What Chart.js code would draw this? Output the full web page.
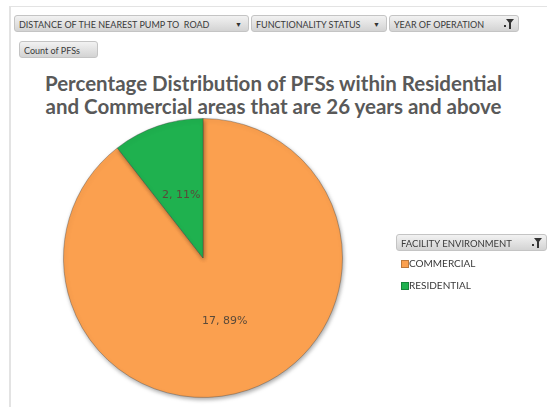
<!DOCTYPE html>
<html>
<head>
<meta charset="utf-8">
<script src="https://cdn.jsdelivr.net/npm/chart.js@4/dist/chart.umd.min.js"></script>
<style>
  body { margin: 0; width: 547px; height: 407px; background: #fff; overflow: hidden; font-family: Lato, "Open Sans", sans-serif; }
  #frame { position: absolute; left: 9px; top: 6px; right: 0; bottom: 0; border-top: 1px solid #e3e3e3; border-left: 2px solid #e3e3e3; }
  .btn { position: absolute; height: 17px; line-height: 17px; font-size: 9px; color: #3a3a3a; padding-left: 4px; box-sizing: border-box;
         background: linear-gradient(#f2f2f2, #d3d3d3); border: 1px solid #c4c4c4; border-radius: 3px; white-space: nowrap; }
  .btn .arr { position: absolute; right: 6px; top: 0; font-size: 7px; color: #333; }
  .btn .funnel { position: absolute; right: 4px; top: 3px; width: 0; height: 0; border-left: 4px solid transparent; border-right: 4px solid transparent; border-top: 5px solid #333; }
  .btn .funnel::after { content: ""; position: absolute; left: -1px; top: -1px; width: 2px; height: 6px; background: #333; }
  .btn .dot { position: absolute; right: 12px; top: 9px; width: 2px; height: 2px; background: #333; }
  #title { position: absolute; left: 0; width: 547px; top: 72px; text-align: center; font-weight: bold; font-size: 20.5px; line-height: 23px; color: #595959; }
  #chartBox { position: absolute; left: 0; top: 0; width: 547px; height: 407px; }
  #legend { position: absolute; left: 396px; top: 234px; width: 151px; }
  #legend .item { position: relative; height: 22px; line-height: 14px; font-size: 10px; color: #3a3a3a; padding-left: 13px; }
  #legend .sw { position: absolute; left: 5px; top: 4px; width: 6px; height: 6px; border: 1px solid rgba(0,0,0,0.25); }
</style>
</head>
<body>
<div id="frame"></div>
<div class="btn" style="left:14px;top:15px;width:235px;">DISTANCE OF THE NEAREST PUMP TO &nbsp;ROAD<span class="arr">&#9660;</span></div>
<div class="btn" style="left:251px;top:15px;width:136px;">FUNCTIONALITY STATUS<span class="arr">&#9660;</span></div>
<div class="btn" style="left:389px;top:15px;width:130px;">YEAR OF OPERATION<span class="dot"></span><span class="funnel"></span></div>
<div class="btn" style="left:19px;top:41px;width:79px;">Count of PFSs</div>
<div id="title">Percentage Distribution of PFSs within Residential<br>and Commercial areas that are 26 years and above</div>
<div id="chartBox"><canvas id="myChart"></canvas></div>
<div id="legend">
  <div class="btn" style="position:relative;width:151px;margin-bottom:5px;font-size:9.5px;">FACILITY ENVIRONMENT<span class="dot"></span><span class="funnel"></span></div>
  <div id="legendItems"></div>
</div>
<script>
const categories = ["COMMERCIAL", "RESIDENTIAL"];
const counts = [17, 2];
const colors = ["#fba04f", "#1fb14f"];

const total = counts.reduce((a, b) => a + b, 0);

// legend built from the same arrays
document.getElementById("legendItems").innerHTML = categories
  .map((c, i) => `<div class="item"><span class="sw" style="background:${colors[i]}"></span>${c}</div>`)
  .join("");

// draws "count, pct%" inside each slice
const sliceLabels = {
  id: "sliceLabels",
  afterDatasetsDraw(chart) {
    const ctx = chart.ctx;
    const meta = chart.getDatasetMeta(0);
    ctx.save();
    ctx.font = "11px 'DejaVu Sans', sans-serif";
    ctx.fillStyle = "#5a4a3a";
    ctx.textAlign = "center";
    ctx.textBaseline = "middle";
    meta.data.forEach((arc, i) => {
      const { x, y, startAngle, endAngle, outerRadius } = arc.getProps(["x", "y", "startAngle", "endAngle", "outerRadius"], true);
      const mid = (startAngle + endAngle) / 2;
      const r = outerRadius * 0.48;
      const pct = Math.round((counts[i] / total) * 100);
      ctx.fillText(`${counts[i]}, ${pct}%`, x + Math.cos(mid) * r, y + Math.sin(mid) * r);
    });
    ctx.restore();
  },
};

// soft shadow under the pie
const pieShadow = {
  id: "pieShadow",
  beforeDatasetsDraw(chart) {
    const ctx = chart.ctx;
    ctx.save();
    ctx.shadowColor = "rgba(0,0,0,0.35)";
    ctx.shadowBlur = 4;
    ctx.shadowOffsetX = 1;
    ctx.shadowOffsetY = 2;
  },
  afterDatasetsDraw(chart) {
    chart.ctx.restore();
  },
};

const config = {
  type: "pie",
  data: {
    labels: categories,
    datasets: [
      {
        data: counts,
        backgroundColor: colors,
        borderColor: "rgba(60,60,60,0.35)",
        borderWidth: 1,
      },
    ],
  },
  options: {
    responsive: false,
    animation: false,
    layout: {
      padding: { left: 63, right: 204, top: 118, bottom: 9 },
    },
    plugins: {
      legend: { display: false },
      tooltip: { enabled: false },
    },
  },
  plugins: [pieShadow, sliceLabels],
};

const canvas = document.getElementById("myChart");
canvas.width = 547;
canvas.height = 407;
new Chart(canvas, config);
</script>
</body>
</html>
